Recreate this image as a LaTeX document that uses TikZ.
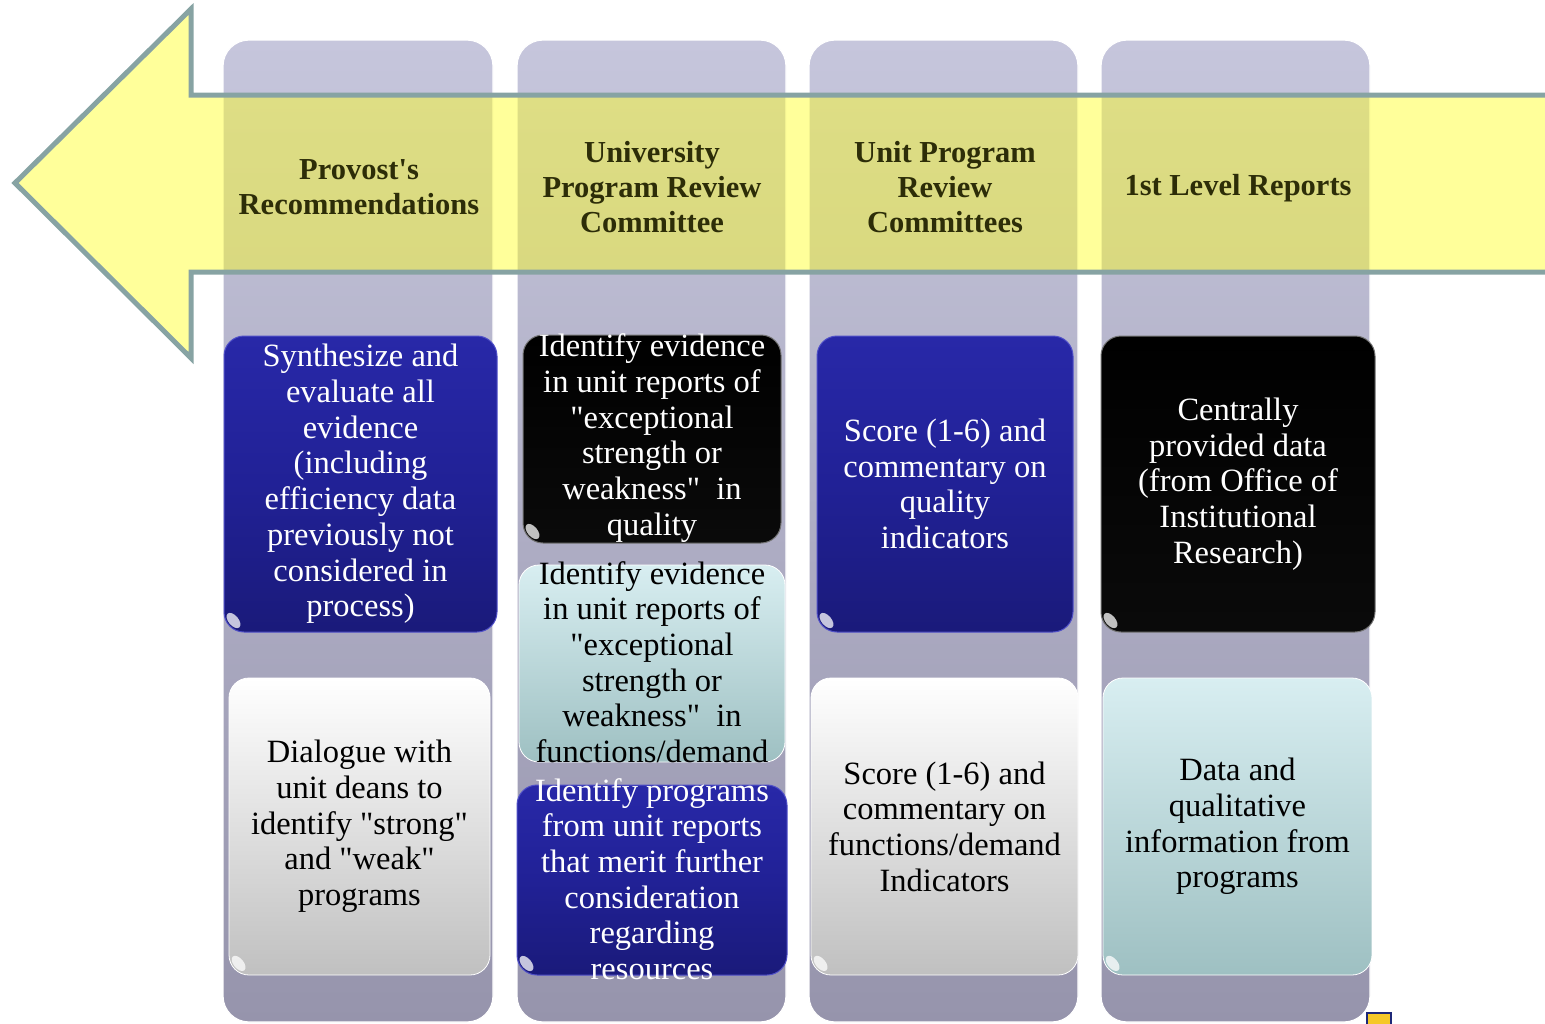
\documentclass[tikz,border=0pt]{standalone}
\usepackage{fontspec}
\setmainfont{Liberation Serif}
\definecolor{colTop}{RGB}{198,198,220}
\definecolor{colBot}{RGB}{150,148,172}
\definecolor{arrLine}{RGB}{135,163,163}
\definecolor{arrFill}{RGB}{255,255,30}
\definecolor{hdrText}{RGB}{45,45,8}
\definecolor{bluTop}{RGB}{40,40,168}
\definecolor{bluMid}{RGB}{33,33,150}
\definecolor{bluBot}{RGB}{26,26,122}
\definecolor{bluEdge}{RGB}{80,80,200}
\definecolor{whiBot}{RGB}{192,192,192}
\definecolor{cyaTop}{RGB}{216,238,241}
\definecolor{cyaBot}{RGB}{158,192,194}
\definecolor{iconNavy}{RGB}{30,40,120}
\definecolor{iconYel}{RGB}{245,200,40}
\begin{document}
\begin{tikzpicture}[x=1pt,y=-1pt,
  colbg/.style={rounded corners=26pt, top color=colTop, bottom color=colBot,
     draw=white, line width=1.2pt, minimum width=#1, minimum height=982pt, inner sep=0pt},
  boxbase/.style={rounded corners=20pt, inner sep=0pt},
  bluebox/.style={boxbase, top color=bluTop, bottom color=bluBot, middle color=bluMid, draw=bluEdge, line width=1pt},
  blackbox/.style={boxbase, top color=black, bottom color=black!96!white, draw=black!55, line width=1pt},
  whitebox/.style={boxbase, top color=white, bottom color=whiBot, draw=white, line width=0.8pt},
  cyanbox/.style={boxbase, top color=cyaTop, bottom color=cyaBot, draw=white, line width=0.8pt},
  glint/.style={fill=white, fill opacity=0.75, draw=none},
  boxtext/.style={align=center, inner sep=0pt, font=\fontsize{32.5}{35.7}\selectfont},
  hdr/.style={align=center, inner sep=0pt, text=hdrText, font=\bfseries\fontsize{30.5}{35}\selectfont},
]
\useasboundingbox (0,0) rectangle (1545,1023);
% columns
\node[colbg=270pt] (col1) at (358,531) {};
\node[colbg=269pt] (col2) at (651.5,531) {};
\node[colbg=269pt] (col3) at (943.5,531) {};
\node[colbg=269pt] (col4) at (1235.5,531) {};
% big arrow
\filldraw[fill=arrFill, fill opacity=0.45, draw=arrLine, line width=5pt, line join=miter]
  (1570,95) -- (191,95) -- (191,9) -- (15,183) -- (191,358) -- (191,272) -- (1570,272);
% headers
\node[hdr] (h1) at (359,187) {Provost\textquotesingle s\\Recommendations};
\node[hdr] (h2) at (652,187) {University\\Program Review\\Committee};
\node[hdr] (h3) at (945,187) {Unit Program\\Review\\Committees};
\node[hdr] (h4) at (1238,188) {1st Level Reports};
% column 1
\node[bluebox, minimum width=273pt, minimum height=296pt] (c1a) at (360.5,484) {};
\node[boxtext, text=white] (t1a) at (c1a.center) {Synthesize and\\evaluate all\\evidence\\(including\\efficiency data\\previously not\\considered in\\process)};
\node[whitebox, minimum width=261pt, minimum height=297pt] (c1b) at (359.5,826.5) {};
\node[boxtext, text=black] (t1b) at (c1b.center) {Dialogue with\\unit deans to\\identify \textquotedbl strong\textquotedbl\\and \textquotedbl weak\textquotedbl\\programs};
% column 2
\node[blackbox, minimum width=258pt, minimum height=208pt] (c2a) at (652,439) {};
\node[boxtext, text=white] (t2a) at (652,438) {Identify evidence\\in unit reports of\\\textquotedbl exceptional\\strength or\\weakness\textquotedbl\ \ in\\quality};
\node[cyanbox, minimum width=266pt, minimum height=197pt] (c2b) at (652,663.5) {};
\node[boxtext, text=black] (t2b) at (652,662) {Identify evidence\\in unit reports of\\\textquotedbl exceptional\\strength or\\weakness\textquotedbl\ \ in\\functions/demand};
\node[bluebox, minimum width=270pt, minimum height=190pt] (c2c) at (652,880) {};
\node[boxtext, text=white] (t2c) at (652,879) {Identify programs\\from unit reports\\that merit further\\consideration\\regarding\\resources};
% column 3
\node[bluebox, minimum width=256pt, minimum height=296pt] (c3a) at (945,484) {};
\node[boxtext, text=white] (t3a) at (c3a.center) {Score (1-6) and\\commentary on\\quality\\indicators};
\node[whitebox, minimum width=267pt, minimum height=297pt] (c3b) at (944.5,826.5) {};
\node[boxtext, text=black] (t3b) at (c3b.center) {Score (1-6) and\\commentary on\\functions/demand\\Indicators};
% column 4
\node[blackbox, minimum width=274pt, minimum height=296pt] (c4a) at (1238,484) {};
\node[boxtext, text=white] (t4a) at (c4a.center) {Centrally\\provided data\\(from Office of\\Institutional\\Research)};
\node[cyanbox, minimum width=269pt, minimum height=297pt] (c4b) at (1237.5,826.5) {};
\node[boxtext, text=black] (t4b) at (c4b.center) {Data and\\qualitative\\information from\\programs};
% glints at lower-left corners
\foreach \b in {c1a,c1b,c2a,c2c,c3a,c3b,c4a,c4b}{
  \path[glint] ([shift={(10pt,12pt)}]\b.south west) ellipse [x radius=5pt, y radius=9pt, rotate=40];
}
% small icon, bottom right
\filldraw[fill=iconYel, draw=iconNavy, line width=2pt] (1367,1013) rectangle (1391,1040);
\end{tikzpicture}
\end{document}
